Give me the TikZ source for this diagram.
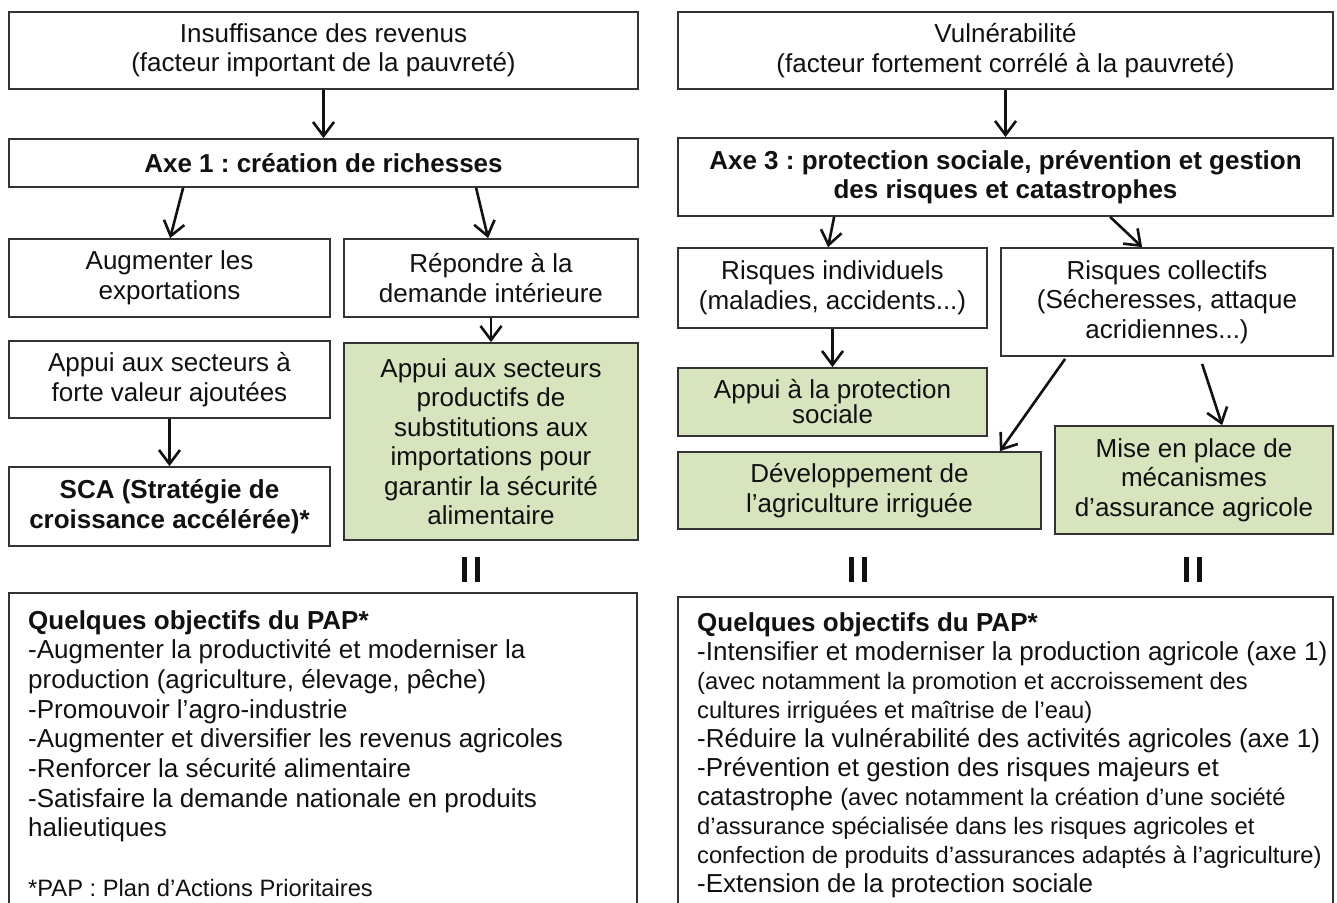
\documentclass[tikz,border=0pt]{standalone}
\usepackage{fontspec}
\setmainfont{Liberation Sans}
\usetikzlibrary{arrows.meta}
\definecolor{greenfill}{HTML}{D7E4BD}
\definecolor{bordercol}{HTML}{333333}
\definecolor{textcol}{HTML}{111111}
\newcommand{\smalltxt}{\fontsize{23.7}{29}\selectfont}
\frenchspacing
\tikzset{
  box/.style={draw=bordercol, line width=1.8pt, fill=white, inner sep=0pt, align=center,
    font=\fontsize{26}{29.5}\selectfont, text=textcol},
  gbox/.style={box, fill=greenfill},
  txt/.style={inner sep=0pt, align=left, text=textcol},
  arr/.style={line width=2.6pt, draw=textcol, -{Straight Barb[length=14pt,width=21pt]}},
  bar/.style={line width=5pt, draw=textcol},
}
\begin{document}
\begin{tikzpicture}[x=1pt,y=-1pt]
\useasboundingbox (0,0) rectangle (1337,902);
\clip (0,0) rectangle (1337,902);
\fill[white] (0,0) rectangle (1337,902);

% left column
\node[box, minimum width=629pt, minimum height=77pt] (ins) at (323.5,50.5)
  {Insuffisance des revenus\\(facteur important de la pauvreté)};
\node[box, minimum width=629pt, minimum height=48pt] (axe1) at (323.5,163)
  {\textbf{Axe 1 : création de richesses}};
\node[box, minimum width=321pt, minimum height=78pt] (aug) at (169.5,278)
  {Augmenter les\\exportations};
\node[box, minimum width=294pt, minimum height=78pt] (rep) at (491,278)
  {Répondre à la\\demande intérieure};
\node[box, minimum width=321pt, minimum height=77pt] (app1) at (169.5,379.5)
  {Appui aux secteurs à\\forte valeur ajoutées};
\node[box, minimum width=321pt, minimum height=79pt] (sca) at (169.5,506.5)
  {\textbf{SCA (Stratégie de}\\\textbf{croissance accélérée)*}};
\node[gbox, minimum width=294pt, minimum height=197pt] (subst) at (491,441.5)
  {Appui aux secteurs\\productifs de\\substitutions aux\\importations pour\\garantir la sécurité\\alimentaire};

% right column
\node[box, minimum width=655pt, minimum height=77pt] (vul) at (1005.5,50.5)
  {Vulnérabilité\\(facteur fortement corrélé à la pauvreté)};
\node[box, minimum width=655pt, minimum height=78pt] (axe3) at (1005.5,177)
  {\textbf{Axe 3 : protection sociale, prévention et gestion}\\\textbf{des risques et catastrophes}};
\node[box, minimum width=309pt, minimum height=80pt] (indiv) at (832.5,288)
  {Risques individuels\\(maladies, accidents...)};
\node[box, minimum width=332pt, minimum height=108pt] (coll) at (1167,302)
  {Risques collectifs\\(Sécheresses, attaque\\acridiennes...)};
\node[gbox, minimum width=309pt, minimum height=68pt, font=\fontsize{26}{25}\selectfont] (prot) at (832.5,402)
  {Appui à la protection\\sociale};
\node[gbox, minimum width=363pt, minimum height=77pt] (dev) at (859.5,490.5)
  {Développement de\\l’agriculture irriguée};
\node[gbox, minimum width=278pt, minimum height=108pt] (mise) at (1194,480)
  {Mise en place de\\mécanismes\\d’assurance agricole};

% bottom boxes (cut by the page edge)
\node[box, minimum width=628pt, minimum height=337pt] (obj1) at (323,761.5) {};
\node[box, minimum width=655pt, minimum height=333pt] (obj2) at (1005.5,763.5) {};

\node[txt, anchor=north west, font=\fontsize{26}{29.7}\selectfont] (obj1t) at (28,610)
  {\textbf{Quelques objectifs du PAP*}\\
   -Augmenter la productivité et moderniser la\\
   production (agriculture, élevage, pêche)\\
   -Promouvoir l’agro-industrie\\
   -Augmenter et diversifier les revenus agricoles\\
   -Renforcer la sécurité alimentaire\\
   -Satisfaire la demande nationale en produits\\
   halieutiques\\[29.7pt]
   {\smalltxt *PAP : Plan d’Actions Prioritaires}};

\node[txt, anchor=north west, font=\fontsize{26}{29}\selectfont] (obj2t) at (697,612)
  {\textbf{Quelques objectifs du PAP*}\\
   -Intensifier et moderniser la production agricole (axe 1)\\
   {\smalltxt (avec notamment la promotion et accroissement des}\\
   {\smalltxt cultures irriguées et maîtrise de l’eau)}\\
   -Réduire la vulnérabilité des activités agricoles (axe 1)\\
   -Prévention et gestion des risques majeurs et\\
   catastrophe {\smalltxt (avec notamment la création d’une société}\\
   {\smalltxt d’assurance spécialisée dans les risques agricoles et}\\
   {\smalltxt confection de produits d’assurances adaptés à l’agriculture)}\\
   -Extension de la protection sociale};

% connectors
\draw[arr] (ins.south) -- (axe1.north);
\draw[arr] ([xshift=175pt]axe1.south west) -- ([xshift=162pt]aug.north west);
\draw[arr] ([xshift=468pt]axe1.south west) -- ([xshift=145pt]rep.north west);
\draw[arr] (rep.south) -- (subst.north);
\draw[arr] (app1.south) -- (sca.north);
\draw[arr] (vul.south) -- (axe3.north);
\draw[arr] ([xshift=157pt]axe3.south west) -- ([xshift=151pt]indiv.north west);
\draw[arr] ([xshift=433pt]axe3.south west) -- ([xshift=142pt]coll.north west);
\draw[arr] (indiv.south) -- (prot.north);
\draw[arr] ([xshift=65pt,yshift=-2pt]coll.south west) -- ([xshift=-42pt]dev.north east);
\draw[arr] ([xshift=202pt,yshift=-7pt]coll.south west) -- ([xshift=168pt]mise.north west);

% equality marks
\coordinate (eqL) at (470.5,569.5);
\coordinate (eqM) at (858,569);
\coordinate (eqR) at (1192.5,569.5);
\foreach \c in {eqL,eqM,eqR}{
  \draw[bar] ([xshift=-6.5pt,yshift=12.5pt]\c) -- ([xshift=-6.5pt,yshift=-12.5pt]\c);
  \draw[bar] ([xshift=6.5pt,yshift=12.5pt]\c) -- ([xshift=6.5pt,yshift=-12.5pt]\c);
}
\end{tikzpicture}
\end{document}
